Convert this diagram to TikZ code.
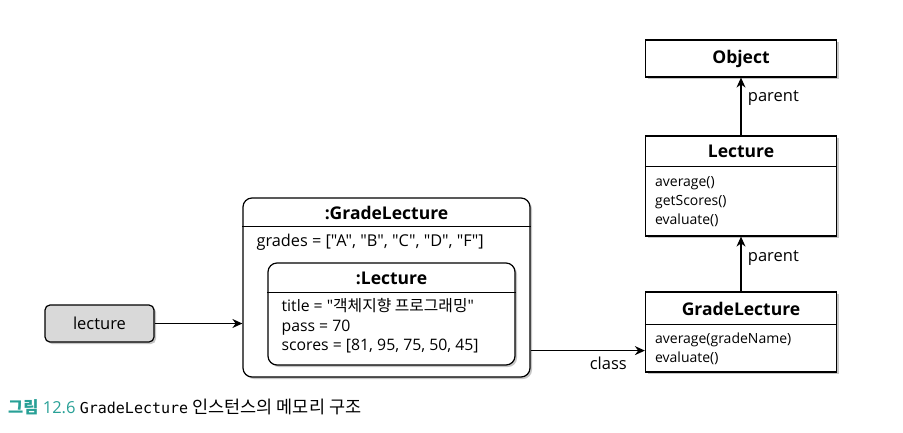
\documentclass[tikz,border=0pt]{standalone}
\usepackage{fontspec}
\setmainfont{Open Sans}[Ligatures=TeXOff]
\setmonofont{DejaVu Sans Mono}
\newfontfamily\kr{Noto Sans CJK KR}
\usetikzlibrary{arrows.meta,shadows,calc,positioning}
\definecolor{capteal}{RGB}{40,160,150}

\begin{document}
\begin{tikzpicture}[x=1pt,y=-1pt,
    box/.style={draw, line width=1.2pt, fill=white, inner sep=0pt,
        drop shadow={shadow xshift=2pt,shadow yshift=-2pt,opacity=0.45}},
    objbox/.style={box, rounded corners=9pt},
    hdr/.style={font=\fontsize{17.5}{20}\selectfont\bfseries},
    mems/.style={font=\fontsize{14}{19}\selectfont, align=left, anchor=north west, inner sep=0pt},
    attrs/.style={font=\fontsize{15.8}{19.5}\selectfont, align=left, anchor=north west, inner sep=0pt},
    lbl/.style={font=\fontsize{16.5}{18}\selectfont},
    ptr/.style={line width=1.2pt, -{Stealth[length=10pt,width=9pt]}}]
    \useasboundingbox (0,0) rectangle (903,432);
    % classes
    \node[box, hdr, minimum width=191pt, minimum height=37pt] (object) at (741,58.5) {Object};
    \node[box, minimum width=191pt, minimum height=100pt] (lecture) at (741,186) {};
    \node[hdr] (lecturename) at (741,151.5) {Lecture};
    \draw[line width=1.2pt] ($(lecture.north west)+(0,31)$) -- ($(lecture.north east)+(0,31)$);
    \node[mems] (lecturemethods) at ($(lecture.north west)+(10,41)$) {average()\\getScores()\\evaluate()};
    \node[box, minimum width=191pt, minimum height=80pt] (gradelecture) at (741,332) {};
    \node[hdr] (gradelecturename) at (741,308.5) {GradeLecture};
    \draw[line width=1.2pt] ($(gradelecture.north west)+(0,33)$) -- ($(gradelecture.north east)+(0,33)$);
    \node[mems] (gradelecturemethods) at ($(gradelecture.north west)+(10,41)$) {average(gradeName)\\evaluate()};
    % instance
    \node[objbox, minimum width=287pt, minimum height=179pt] (inst) at (386.5,287.5) {};
    \node[hdr] (instname) at (386.5,213) {:GradeLecture};
    \draw[line width=1.2pt] ($(inst.north west)+(0,29)$) -- ($(inst.north east)+(0,29)$);
    \node[attrs, font=\fontsize{16.3}{19.5}\selectfont] (instgrades) at ($(inst.north west)+(14,37)$) {grades = ["A", "B", "C", "D", "F"]};
    \node[objbox, minimum width=247pt, minimum height=102pt] (superinst) at (391.5,314) {};
    \node[hdr] (superinstname) at (391.5,278) {:Lecture};
    \draw[line width=1.2pt] ($(superinst.north west)+(0,30)$) -- ($(superinst.north east)+(0,30)$);
    \node[attrs] (superinstattrs) at ($(superinst.north west)+(14,36)$)
        {title = "{\kr 객체지향 프로그래밍}"\\pass = 70\\scores = [81, 95, 75, 50, 45]};
    % variable
    \node[box, rounded corners=5pt, fill=gray!30, lbl, minimum width=109pt, minimum height=37pt] (var) at (99.5,323.5) {lecture};
    % links
    \draw[ptr] (var.east) -- (var -| inst.west);
    \draw[ptr] ($(inst.south east)+(0,-27)$) coordinate (classstart) -- (classstart -| gradelecture.west)
        node[pos=0.68, below=2pt, lbl] {class};
    \draw[ptr] (lecture.north) -- (object.south) node[pos=0.65, right=3pt, lbl] {parent};
    \draw[ptr] (gradelecture.north) -- (lecture.south) node[pos=0.6, right=3pt, lbl] {parent};
    % caption
    \node[anchor=west, inner sep=0pt, font=\fontsize{16.5}{18}\selectfont] (caption) at (8,407)
        {{\kr\bfseries\color{capteal}그림} {\color{capteal}12.6} {\ttfamily\fontsize{15}{18}\selectfont GradeLecture} {\kr\fontsize{17.5}{18}\selectfont 인스턴스의 메모리 구조}};
\end{tikzpicture}
\end{document}
